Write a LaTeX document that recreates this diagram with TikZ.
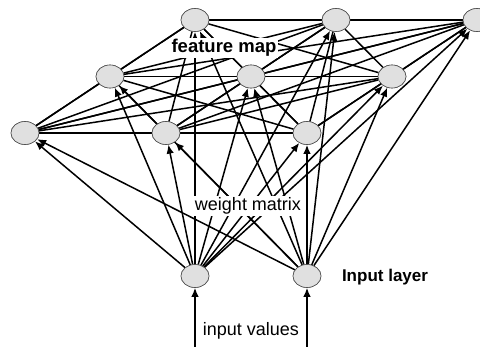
\documentclass[tikz,border=0pt]{standalone}
\usepackage{fontspec}
\setmainfont{Liberation Sans}
\usetikzlibrary{arrows.meta,shapes.geometric}
\begin{document}
\begin{tikzpicture}[x=1pt,y=-1pt,
  neuron/.style={ellipse,draw=black!70,line width=0.6pt,fill=black!12,
    minimum width=28pt,minimum height=23pt,inner sep=0pt},
  lateral/.style={line width=1.5pt},
  weight/.style={line width=1.5pt,-{Latex[length=9pt,width=7.5pt]}},
  caption/.style={fill=white,inner sep=1.5pt,font=\fontsize{18}{20}\selectfont}]
\useasboundingbox (0,0) rectangle (480,347);

% 3x3 feature map in perspective: p<column><row>, row 0 = front
\foreach \i in {0,1,2}{
  \foreach \j in {0,1,2}{
    \coordinate (p\i\j) at ({25+141*\i+85*\j},{133-56.5*\j});
  }
}
% input layer
\node[neuron] (in1) at (195,276) {};
\node[neuron] (in2) at (307,276) {};
\coordinate (src1) at (195,347);
\coordinate (src2) at (307,347);

% feature map neurons (placed first so lines can refer to them)
\foreach \i in {0,1,2}{
  \foreach \j in {0,1,2}{
    \node[neuron] (f\i\j) at (p\i\j) {};
  }
}

% lateral connections: every pair of feature map neurons
\foreach \a/\b in {00/10,00/20,00/01,00/11,00/21,00/02,00/12,00/22,
                   10/20,10/01,10/11,10/21,10/02,10/12,10/22,
                   20/01,20/11,20/21,20/02,20/12,20/22,
                   01/11,01/21,01/02,01/12,01/22,
                   11/21,11/02,11/12,11/22,
                   21/02,21/12,21/22,
                   02/12,02/22,
                   12/22}{
  \draw[lateral] (f\a) -- (f\b);
}

% weights from both inputs to every feature map neuron
\foreach \k in {1,2}{
  \foreach \i in {0,1,2}{
    \foreach \j in {0,1,2}{
      \draw[weight] (in\k) -- (f\i\j);
    }
  }
}

% input values
\draw[weight] (src1) -- (in1);
\draw[weight] (src2) -- (in2);

% labels
\node[caption,font=\fontsize{18.5}{20}\selectfont\bfseries] (lfm) at (224,48) {feature map};
\node[caption] (lwm) at (248,206) {weight matrix};
\node[caption,fill=none,font=\fontsize{17}{20}\selectfont\bfseries] (lil) at (385,277) {Input layer};
\node[caption,fill=none] (liv) at (251,331) {input values};

% neurons drawn again on top of the lines
\foreach \i in {0,1,2}{
  \foreach \j in {0,1,2}{
    \node[neuron] at (p\i\j) {};
  }
}
\node[neuron] at (in1) {};
\node[neuron] at (in2) {};
\end{tikzpicture}
\end{document}
